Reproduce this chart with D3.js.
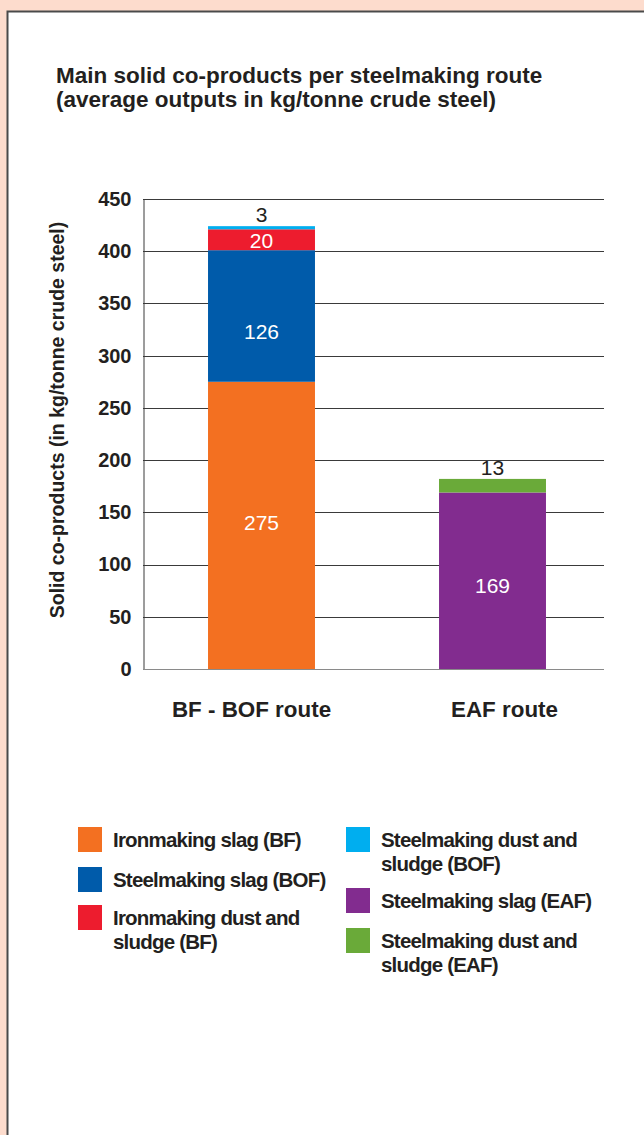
<!DOCTYPE html>
<html>
<head>
<meta charset="utf-8">
<script src="https://cdn.jsdelivr.net/npm/d3@7"></script>
<style>
  html, body { margin: 0; padding: 0; background: #fddccd; }
  svg { display: block; }
  text { font-family: "Liberation Sans", Arial, Helvetica, sans-serif; }
</style>
</head>
<body>
<svg id="chart" width="644" height="1135"></svg>
<script>
// Routes shown on the x axis
const routes = ["BF - BOF route", "EAF route"];

// Co-product series (kg per tonne of crude steel)
const seriesNames = [
  "Ironmaking slag (BF)",
  "Steelmaking slag (BOF)",
  "Ironmaking dust and sludge (BF)",
  "Steelmaking dust and sludge (BOF)",
  "Steelmaking slag (EAF)",
  "Steelmaking dust and sludge (EAF)"
];
const ironmakingSlagBF   = [275, 0];
const steelmakingSlagBOF = [126, 0];
const ironmakingDustBF   = [20, 0];
const steelmakingDustBOF = [3, 0];
const steelmakingSlagEAF = [0, 169];
const steelmakingDustEAF = [0, 13];

const yTicks = [0, 50, 100, 150, 200, 250, 300, 350, 400, 450];

const colors = ["#f37021", "#005baa", "#ed1c2e", "#00aeef", "#822c8f", "#6aaa39"];

// Value labels: white inside the segment, black above it for thin segments
const labelInside = [true, true, true, false, true, false];
const labelNudge  = [-3, 15, 0, 0, 4, 0];

const seriesValues = [ironmakingSlagBF, steelmakingSlagBOF, ironmakingDustBF,
                      steelmakingDustBOF, steelmakingSlagEAF, steelmakingDustEAF];

const rows = routes.map((r, i) => {
  const o = { route: r };
  seriesNames.forEach((s, k) => { o[s] = seriesValues[k][i]; });
  return o;
});

const svg = d3.select("#chart");

// White panel with dark frame
svg.append("rect").attr("x", 7.5).attr("y", 11.5).attr("width", 660).attr("height", 1140)
  .attr("fill", "#ffffff").attr("stroke", "#4a4a4a").attr("stroke-width", 2);

// Title
const title = svg.append("text").attr("x", 56).attr("y", 83)
  .attr("font-size", 22.5).attr("font-weight", "bold").attr("fill", "#231f20");
title.append("tspan").attr("x", 56).text("Main solid co-products per steelmaking route");
title.append("tspan").attr("x", 56).attr("dy", 24).text("(average outputs in kg/tonne crude steel)");

const plot = { left: 143, right: 604, top: 199, bottom: 669 };

const y = d3.scaleLinear().domain([0, 450]).range([plot.bottom, plot.top]);
const x = d3.scaleBand().domain(routes).range([146, 608]).paddingInner(0.537).paddingOuter(0.2685);

// Gridlines
svg.append("g").selectAll("line").data(yTicks.filter(t => t > 0)).join("line")
  .attr("x1", plot.left).attr("x2", plot.right)
  .attr("y1", d => Math.round(y(d)) + 0.5).attr("y2", d => Math.round(y(d)) + 0.5)
  .attr("stroke", "#3a3a3a").attr("stroke-width", 1);

// Y axis
const yAxis = d3.axisLeft(y).tickValues(yTicks).tickSize(0).tickPadding(12);
const gy = svg.append("g").attr("transform", `translate(${plot.left + 0.5},0)`).call(yAxis);
gy.select(".domain").attr("stroke", "#3a3a3a");
gy.selectAll("text").attr("font-size", 20).attr("font-weight", "bold")
  .attr("fill", "#231f20").attr("font-family", "Liberation Sans, Arial, sans-serif");

// Baseline
svg.append("line").attr("x1", plot.left).attr("x2", plot.right)
  .attr("y1", plot.bottom + 0.5).attr("y2", plot.bottom + 0.5)
  .attr("stroke", "#8a8a8a").attr("stroke-width", 1.2);

// Y axis title
svg.append("text")
  .attr("transform", `translate(64,420) rotate(-90)`)
  .attr("text-anchor", "middle").attr("font-size", 19.5).attr("font-weight", "bold")
  .attr("fill", "#231f20").text("Solid co-products (in kg/tonne crude steel)");

// Stacked bars
const stacked = d3.stack().keys(seriesNames)(rows);
const layers = svg.append("g").selectAll("g").data(stacked).join("g")
  .attr("fill", (d, i) => colors[i]);
layers.selectAll("rect").data(d => d.filter(p => p[1] - p[0] > 0)).join("rect")
  .attr("x", p => x(p.data.route))
  .attr("width", x.bandwidth())
  .attr("y", p => y(p[1]))
  .attr("height", p => y(p[0]) - y(p[1]));

// Value labels
stacked.forEach((layer, k) => {
  layer.filter(p => p[1] - p[0] > 0).forEach(p => {
    const v = p[1] - p[0];
    const cx = x(p.data.route) + x.bandwidth() / 2;
    const inside = labelInside[k];
    svg.append("text")
      .attr("x", cx)
      .attr("y", inside ? (y(p[0]) + y(p[1])) / 2 + 8 + labelNudge[k] : y(p[1]) - 4)
      .attr("text-anchor", "middle").attr("font-size", 21)
      .attr("fill", inside ? "#ffffff" : "#231f20")
      .text(v);
  });
});

// Category labels
const catShift = [-10, 12];
svg.append("g").selectAll("text").data(routes).join("text")
  .attr("x", (d, i) => x(d) + x.bandwidth() / 2 + catShift[i])
  .attr("y", 717).attr("text-anchor", "middle")
  .attr("font-size", 22.4).attr("font-weight", "bold").attr("fill", "#231f20")
  .text(d => d);

// Legend
const legendItems = [
  { col: 0, y: 827, lines: ["Ironmaking slag (BF)"] },
  { col: 0, y: 867, lines: ["Steelmaking slag (BOF)"] },
  { col: 0, y: 905, lines: ["Ironmaking dust and", "sludge (BF)"] },
  { col: 1, y: 827, lines: ["Steelmaking dust and", "sludge (BOF)"] },
  { col: 1, y: 888, lines: ["Steelmaking slag (EAF)"] },
  { col: 1, y: 928, lines: ["Steelmaking dust and", "sludge (EAF)"] }
];
const colX = [78, 346];
legendItems.forEach((it, i) => {
  const g = svg.append("g");
  g.append("rect").attr("x", colX[it.col]).attr("y", it.y)
    .attr("width", 24).attr("height", 25).attr("fill", colors[i]);
  const t = g.append("text").attr("font-size", 20.5).attr("font-weight", "bold")
    .attr("letter-spacing", -0.8).attr("fill", "#231f20");
  it.lines.forEach((ln, j) => {
    t.append("tspan").attr("x", colX[it.col] + 35).attr("y", it.y + 20 + j * 24).text(ln);
  });
});
</script>
</body>
</html>
